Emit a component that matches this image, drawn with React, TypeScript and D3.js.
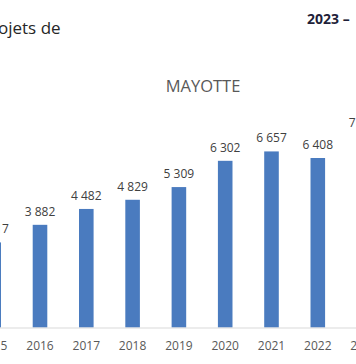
import React from "react";
import * as d3 from "d3";

const years = ["2015", "2016", "2017", "2018", "2019", "2020", "2021", "2022", "2023"];
const values = [3217, 3882, 4482, 4829, 5309, 6302, 6657, 6408, 7234];
const valueLabels = ["3 217", "3 882", "4 482", "4 829", "5 309", "6 302", "6 657", "6 408", "7 234"];
const chartTitle = "MAYOTTE";
const headerLeft = "ojets de";
const headerRight = "2023 –";

const W = 356;
const H = 364;

export default function App() {
  const x = d3.scalePoint<string>().domain(years).range([-6.3, 364.1]);
  const step = x.step();
  const barW = step * 0.315;
  const y = d3.scaleLinear().domain([0, 8000]).range([327.5, 327.5 - 8000 * 0.02645]);
  const font = "'Open Sans', 'Liberation Sans', sans-serif";

  return (
    <div style={{ position: "fixed", left: 0, top: 0, width: W, height: H, background: "#fff" }}>
      <svg width={W} height={H} style={{ display: "block" }}>
        <rect x={0} y={0} width={W} height={H} fill="#ffffff" />
        <text x={-2} y={34} fontFamily={font} fontSize={17} fill="#262626">{headerLeft}</text>
        <text x={307} y={24} fontFamily={font} fontSize={14} fontWeight="bold" fill="#1f1f3a">{headerRight}</text>
        <text x={203} y={92} textAnchor="middle" fontFamily={font} fontSize={16.5} fill="#595959">{chartTitle}</text>
        {years.map((yr, i) => (
          <g key={yr}>
            <rect
              x={(x(yr) as number) - barW / 2}
              y={y(values[i])}
              width={barW}
              height={y(0) - y(values[i])}
              fill="#4a7bbf"
            />
            <text
              x={x(yr) as number}
              y={y(values[i]) - 9}
              textAnchor="middle"
              fontFamily={font}
              fontSize={12}
              fill="#404040"
            >
              {valueLabels[i]}
            </text>
            <text
              x={x(yr) as number}
              y={350}
              textAnchor="middle"
              fontFamily={font}
              fontSize={12}
              fill="#595959"
            >
              {yr}
            </text>
          </g>
        ))}
        <line x1={0} x2={W} y1={y(0) + 0.5} y2={y(0) + 0.5} stroke="#d9d9d9" strokeWidth={1} />
      </svg>
    </div>
  );
}
